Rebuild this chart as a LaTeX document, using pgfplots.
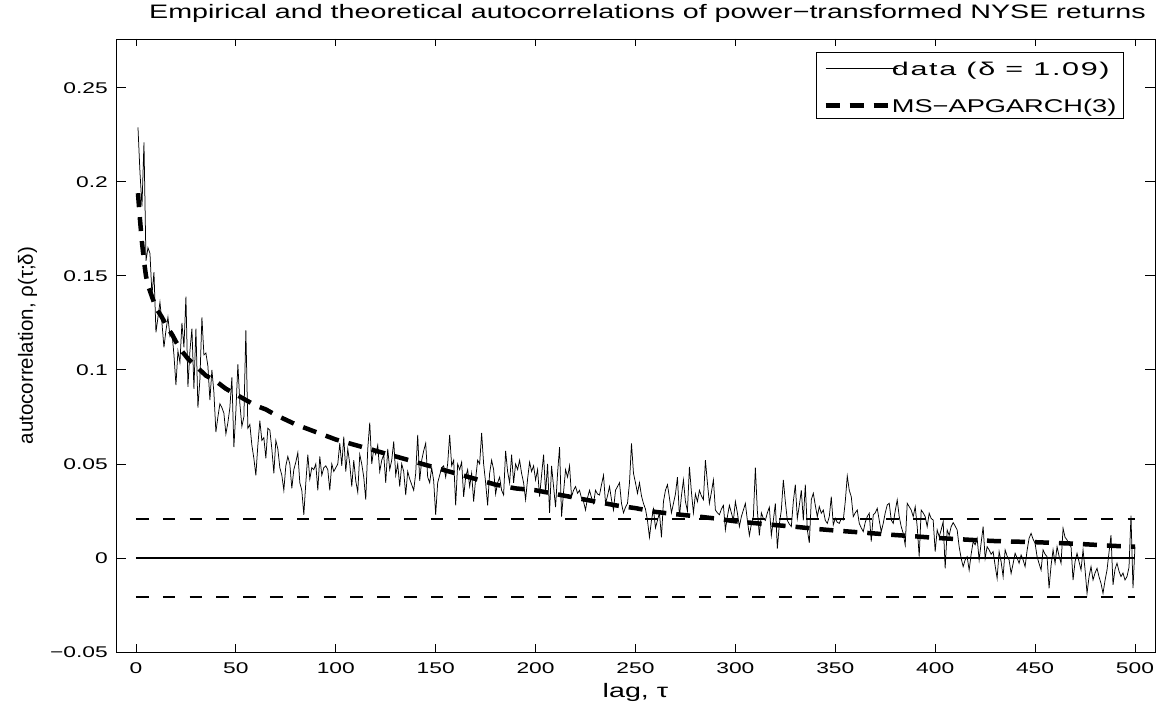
\documentclass[border=0pt]{standalone}
\usepackage{fontspec}
\setmainfont{Liberation Sans}[FakeStretch=1.47]
\newfontfamily\ylfont{Liberation Sans}
\newfontfamily\widefont{Liberation Sans}[FakeStretch=1.65, LetterSpace=9]
\usepackage{pgfplots}
\pgfplotsset{compat=1.18}
\begin{document}
\begin{tikzpicture}
\useasboundingbox (0,0) rectangle (1161pt,704pt);
\begin{axis}[
  at={(116pt,52pt)}, anchor=south west,
  scale only axis, width=1039pt, height=613pt,
  xmin=-10, xmax=510, ymin=-0.05, ymax=0.276,
  axis line style={line width=0.9pt},
  tick align=inside, xtick pos=both, ytick pos=both,
  tick style={line width=0.9pt, black},
  xtick style={/pgfplots/major tick length=7.5pt},
  ytick style={/pgfplots/major tick length=10pt},
  xtick={0,50,...,500},
  xticklabels={0,50,100,150,200,250,300,350,400,450,500},
  ytick={-0.05,0,0.05,0.1,0.15,0.2,0.25},
  yticklabels={−0.05,0,0.05,0.1,0.15,0.2,0.25},
  every tick label/.append style={inner sep=0pt, font=\fontsize{15.5}{15.5}\selectfont},
  xticklabel style={anchor=north, yshift=-10pt},
  yticklabel style={anchor=east, xshift=-8pt},
  title={Empirical and theoretical autocorrelations of power−transformed NYSE returns},
  title style={at={(rel axis cs:0.5,1)}, anchor=base, yshift=14pt, xshift=12pt, font=\fontsize{19.5}{19.5}\selectfont, inner sep=0pt},
  xlabel={lag, τ},
  xlabel style={at={(rel axis cs:0.5,0)}, anchor=base, yshift=-45pt, font=\fontsize{19.5}{19.5}\selectfont, inner sep=0pt},
  ylabel={\ylfont autocorrelation, ρ(τ;δ)},
  ylabel style={at={([xshift=-83pt]rel axis cs:0,0.5)}, anchor=base, font=\fontsize{20.5}{20.5}\selectfont, inner sep=0pt},
  legend cell align=left,
  legend style={at={(rel axis cs:0.970,0.979)}, anchor=north east, draw=black, line width=0.9pt, fill=white,
    inner xsep=7pt, inner ysep=3pt, row sep=14.3pt, column sep=-8pt,
    nodes={inner sep=0pt, text height=20pt, text depth=3pt},
    font=\fontsize{18.5}{18.5}\selectfont},
]
\addplot[black, line width=0.75pt, legend image code/.code={\draw[black, line width=0.75pt] (0pt,-1.5pt) -- (72pt,-1.5pt);}] coordinates {
(1,0.229) (2,0.205) (3,0.187) (4,0.221) (5,0.158) (6,0.165) (7,0.162) (8,0.140) (9,0.152) (10,0.120)
(11,0.128) (12,0.136) (13,0.125) (14,0.112) (15,0.121) (16,0.128) (17,0.118) (18,0.120) (19,0.108) (20,0.092)
(21,0.110) (22,0.104) (23,0.125) (24,0.112) (25,0.139) (26,0.091) (27,0.110) (28,0.122) (29,0.090) (30,0.122)
(31,0.080) (32,0.095) (33,0.128) (34,0.108) (35,0.109) (36,0.102) (37,0.084) (38,0.100) (39,0.088) (40,0.067)
(41,0.075) (42,0.082) (43,0.080) (44,0.077) (45,0.066) (46,0.072) (47,0.080) (48,0.096) (49,0.059) (50,0.078)
(51,0.103) (52,0.082) (53,0.070) (54,0.075) (55,0.121) (56,0.069) (57,0.071) (58,0.060) (59,0.053) (60,0.044)
(61,0.060) (62,0.073) (63,0.0625) (64,0.064) (65,0.053) (66,0.069) (67,0.068) (68,0.058) (69,0.045) (70,0.0625)
(71,0.058) (72,0.048) (73,0.044) (74,0.036) (75,0.049) (76,0.054) (77,0.050) (78,0.037) (79,0.047) (80,0.051)
(81,0.056) (82,0.040) (83,0.036) (84,0.023) (85,0.040) (86,0.055) (87,0.042) (88,0.048) (89,0.047) (90,0.050)
(91,0.036) (92,0.054) (93,0.044) (94,0.048) (95,0.049) (96,0.047) (97,0.036) (98,0.050) (99,0.046) (100,0.048)
(101,0.050) (102,0.061) (103,0.049) (104,0.0645) (105,0.046) (106,0.058) (107,0.050) (108,0.038) (109,0.052) (110,0.041)
(111,0.035) (112,0.055) (113,0.050) (114,0.043) (115,0.031) (116,0.058) (117,0.072) (118,0.050) (119,0.058) (120,0.055)
(121,0.060) (122,0.046) (123,0.052) (124,0.055) (125,0.040) (126,0.058) (127,0.047) (128,0.052) (129,0.062) (130,0.044)
(131,0.050) (132,0.038) (133,0.050) (134,0.046) (135,0.0335) (136,0.046) (137,0.042) (138,0.039) (139,0.036) (140,0.045)
(141,0.0655) (142,0.041) (143,0.052) (144,0.057) (145,0.061) (146,0.043) (147,0.040) (148,0.048) (149,0.041) (150,0.023)
(151,0.040) (152,0.044) (153,0.048) (154,0.049) (155,0.043) (156,0.050) (157,0.0655) (158,0.049) (159,0.052) (160,0.028)
(161,0.050) (162,0.047) (163,0.051) (164,0.0325) (165,0.043) (166,0.047) (167,0.038) (168,0.045) (169,0.030) (170,0.042)
(171,0.052) (172,0.050) (173,0.0665) (174,0.050) (175,0.040) (176,0.028) (177,0.045) (178,0.052) (179,0.047) (180,0.034)
(181,0.040) (182,0.043) (183,0.036) (184,0.0335) (185,0.057) (186,0.046) (187,0.040) (188,0.055) (189,0.040) (190,0.050)
(191,0.047) (192,0.052) (193,0.045) (194,0.040) (195,0.031) (196,0.042) (197,0.051) (198,0.046) (199,0.049) (200,0.0415)
(201,0.047) (202,0.0326) (203,0.044) (204,0.055) (205,0.0344) (206,0.050) (207,0.024) (208,0.049) (209,0.038) (210,0.027)
(211,0.045) (212,0.059) (213,0.022) (214,0.035) (215,0.047) (216,0.043) (217,0.049) (218,0.0326) (219,0.036) (220,0.038)
(221,0.0344) (222,0.036) (223,0.0318) (224,0.030) (225,0.0255) (226,0.032) (227,0.036) (228,0.032) (229,0.029) (230,0.036)
(231,0.034) (232,0.0335) (233,0.039) (234,0.044) (235,0.029) (236,0.033) (237,0.038) (238,0.031) (239,0.0255) (240,0.036)
(241,0.038) (242,0.040) (243,0.029) (244,0.024) (245,0.027) (246,0.029) (247,0.040) (248,0.061) (249,0.045) (250,0.040)
(251,0.0344) (252,0.040) (253,0.033) (254,0.029) (255,0.026) (256,0.020) (257,0.011) (258,0.020) (259,0.026) (260,0.016)
(261,0.020) (262,0.024) (263,0.011) (264,0.030) (265,0.036) (266,0.039) (267,0.032) (268,0.024) (269,0.029) (270,0.034)
(271,0.043) (272,0.022) (273,0.033) (274,0.0415) (275,0.030) (276,0.025) (277,0.0485) (278,0.035) (279,0.024) (280,0.034)
(281,0.030) (282,0.036) (283,0.033) (284,0.031) (285,0.052) (286,0.040) (287,0.029) (288,0.035) (289,0.0415) (290,0.0255)
(291,0.024) (292,0.023) (293,0.026) (294,0.028) (295,0.015) (296,0.022) (297,0.028) (298,0.024) (299,0.020) (300,0.030)
(301,0.024) (302,0.0167) (303,0.022) (304,0.0255) (305,0.029) (306,0.020) (307,0.012) (308,0.018) (309,0.022) (310,0.048)
(311,0.025) (312,0.012) (313,0.024) (314,0.021) (315,0.020) (316,0.024) (317,0.027) (318,0.012) (319,0.020) (320,0.029)
(321,0.005) (322,0.018) (323,0.0255) (324,0.0415) (325,0.030) (326,0.020) (327,0.018) (328,0.0167) (329,0.030) (330,0.039)
(331,0.021) (332,0.028) (333,0.036) (334,0.020) (335,0.039) (336,0.015) (337,0.008) (338,0.031) (339,0.0344) (340,0.028)
(341,0.022) (342,0.0273) (343,0.0238) (344,0.0255) (345,0.020) (346,0.0184) (347,0.022) (348,0.0326) (349,0.0176) (350,0.0211)
(351,0.019) (352,0.0184) (353,0.021) (354,0.0202) (355,0.030) (356,0.0436) (357,0.036) (358,0.0326) (359,0.022) (360,0.024)
(361,0.0255) (362,0.0184) (363,0.016) (364,0.014) (365,0.019) (366,0.022) (367,0.0238) (368,0.0087) (369,0.0229) (370,0.024)
(371,0.0264) (372,0.020) (373,0.014) (374,0.0184) (375,0.024) (376,0.0282) (377,0.0291) (378,0.0202) (379,0.0184) (380,0.025)
(381,0.0309) (382,0.022) (383,0.0167) (384,0.0131) (385,0.0069) (386,0.0291) (387,0.0273) (388,0.0255) (389,0.022) (390,0.0273)
(391,0.0167) (392,0.0007) (393,0.0255) (394,0.024) (395,0.022) (396,0.0167) (397,0.0238) (398,0.021) (399,0.0202) (400,0.0034)
(401,0.0149) (402,0.0113) (403,0.015) (404,0.0193) (405,-0.0055) (406,0.0149) (407,0.012) (408,0.0167) (409,0.0188) (410,0.017)
(411,0.0149) (412,0.006) (413,-0.0002) (414,-0.0046) (415,-0.001) (416,0.0007) (417,-0.0064) (418,0.002) (419,0.0087) (420,0.007)
(421,0.0105) (422,-0.0011) (423,0.008) (424,0.0167) (425,-0.0002) (426,0.006) (427,0.0043) (428,0.002) (429,0.0034) (430,-0.004)
(431,-0.0108) (432,0.0034) (433,-0.002) (434,-0.0099) (435,0.0043) (436,0.001) (437,-0.0011) (438,-0.0082) (439,-0.003) (440,0.0025)
(441,0.000) (442,-0.0028) (443,0.0016) (444,-0.001) (445,-0.0046) (446,0.004) (447,0.0105) (448,0.0131) (449,0.010) (450,0.0078)
(451,0.0007) (452,-0.003) (453,-0.0064) (454,0.0043) (455,0.002) (456,0.0007) (457,-0.0161) (458,-0.004) (459,0.0043) (460,-0.0028)
(461,0.006) (462,0.001) (463,-0.0028) (464,0.0158) (465,0.011) (466,0.0096) (467,0.007) (468,0.0060) (469,-0.0117) (470,-0.002)
(471,0.0025) (472,-0.002) (473,-0.0064) (474,0.0043) (475,-0.006) (476,-0.0188) (477,-0.010) (478,-0.0046) (479,-0.0117) (480,-0.008)
(481,-0.0055) (482,-0.010) (483,-0.0135) (484,-0.0188) (485,-0.012) (486,-0.0064) (487,0.003) (488,0.0122) (489,-0.0143) (490,-0.006)
(491,-0.0028) (492,-0.007) (493,-0.0099) (494,-0.008) (495,-0.0117) (496,-0.0099) (497,-0.005) (498,0.0225) (499,-0.016) (500,0.006)
};
\addlegendentry{\widefont data (δ = 1.09)}
\addplot[black, line width=4.5pt, dash pattern=on 14pt off 10pt, legend image code/.code={\draw[black, line width=4.5pt, dash pattern=on 14pt off 10pt] (0pt,-1.5pt) -- (72pt,-1.5pt);}] coordinates {
(1,0.194) (2,0.180) (3,0.168) (4,0.158) (5,0.150) (6,0.145) (8,0.139) (10,0.133) (13,0.128) (16,0.122)
(18,0.119) (20,0.115) (23,0.110) (26,0.106) (30,0.102) (35,0.097) (40,0.094) (45,0.090) (50,0.087) (55,0.084)
(60,0.081) (65,0.079) (70,0.076) (80,0.071) (90,0.067) (100,0.063) (110,0.060) (120,0.057) (130,0.054) (140,0.051)
(150,0.048) (160,0.045) (170,0.042) (180,0.039) (190,0.037) (200,0.036) (210,0.034) (220,0.032) (230,0.030) (240,0.028)
(250,0.0265) (260,0.0245) (270,0.0233) (280,0.0222) (290,0.021) (300,0.0195) (310,0.0185) (320,0.0175) (330,0.0166) (340,0.0155)
(350,0.0146) (360,0.0138) (370,0.013) (380,0.0122) (390,0.0115) (400,0.0107) (410,0.0101) (420,0.0095) (430,0.009) (440,0.0087)
(450,0.0084) (460,0.008) (470,0.0076) (480,0.007) (490,0.0064) (500,0.006)
};
\addlegendentry{MS−APGARCH(3)}
\addplot[black, line width=1.3pt, forget plot] coordinates {(0,0) (500,0)};
\addplot[black, line width=1.3pt, dash pattern=on 12.6pt off 14.2pt, forget plot] coordinates {(0,0.0207) (500,0.0207)};
\addplot[black, line width=1.3pt, dash pattern=on 12.6pt off 14.2pt, forget plot] coordinates {(0,-0.0207) (500,-0.0207)};
\end{axis}
\end{tikzpicture}
\end{document}
